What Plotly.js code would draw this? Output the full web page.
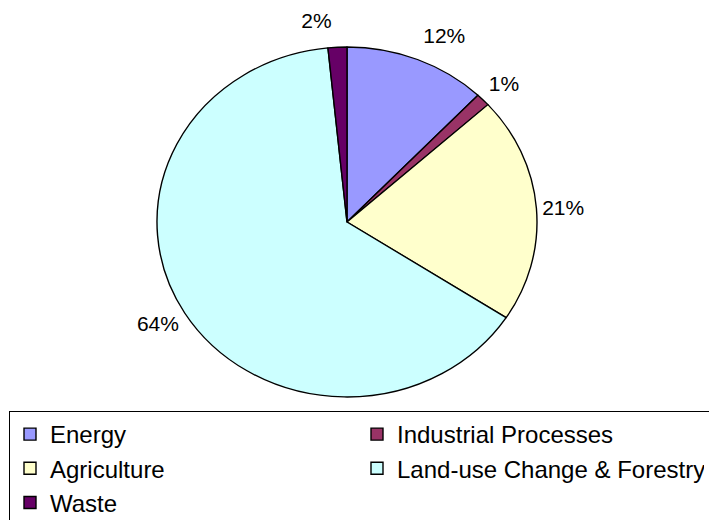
<!DOCTYPE html>
<html>
<head>
<meta charset="utf-8">
<script src="https://cdn.plot.ly/plotly-3.0.1.min.js"></script>
<style>
html, body { margin: 0; padding: 0; overflow: hidden; background: #ffffff; width: 709px; height: 520px; }
#chart { width: 760px; height: 560px; }
</style>
</head>
<body>
<div id="chart"></div>
<script>
const categories = ["Energy", "Industrial Processes", "Agriculture", "Land-use Change & Forestry", "Waste"];
const shares = [12.1, 1.2, 20.9, 64.2, 1.6];
const colors = ["#9999FF", "#993366", "#FFFFCC", "#CCFFFF", "#660066"];

const W = 760, H = 560;
const trace = {
  type: "pie",
  labels: categories,
  values: shares,
  sort: false,
  direction: "clockwise",
  rotation: 0,
  marker: { colors: colors, line: { color: "#000000", width: 1.4 } },
  texttemplate: "%{percent:.0%}",
  textposition: "outside",
  outsidetextfont: { family: "Liberation Sans, Arial, sans-serif", size: 21, color: "#000000" },
  hoverinfo: "none",
  domain: { x: [157 / W, 537 / W], y: [148 / H, 528 / H] }
};

const layout = {
  width: W,
  height: H,
  margin: { l: 0, r: 0, t: 0, b: 0 },
  paper_bgcolor: "#ffffff",
  plot_bgcolor: "#ffffff",
  showlegend: true,
  font: { family: "Liberation Sans, Arial, sans-serif", color: "#000000" },
  legend: {
    orientation: "h",
    x: 9 / W,
    xanchor: "left",
    y: (H - 411) / H,
    yanchor: "top",
    bordercolor: "#000000",
    borderwidth: 1,
    bgcolor: "#ffffff",
    font: { family: "Liberation Sans, Arial, sans-serif", size: 24, color: "#000000" },
    entrywidth: 302,
    entrywidthmode: "pixels",
    traceorder: "normal"
  }
};

Plotly.newPlot("chart", [trace], layout, { staticPlot: true, displayModeBar: false }).then(function () {
  const s = 175 / 190;
  const paths = document.querySelectorAll(".pielayer path.surface");
  let minY = Infinity, maxY = -Infinity;
  paths.forEach(function (p) {
    const b = p.getBBox();
    minY = Math.min(minY, b.y);
    maxY = Math.max(maxY, b.y + b.height);
  });
  const cy = (minY + maxY) / 2;
  paths.forEach(function (p) {
    p.setAttribute("transform", "translate(0," + (cy * (1 - s)) + ") scale(1," + s + ")");
  });
  // the reference legend frame runs past the right and bottom edges of the picture
  document.querySelectorAll(".legend > rect.bg").forEach(function (r) {
    r.setAttribute("width", parseFloat(r.getAttribute("width")) + 40);
    r.setAttribute("height", parseFloat(r.getAttribute("height")) + 30);
  });
});
</script>
</body>
</html>
